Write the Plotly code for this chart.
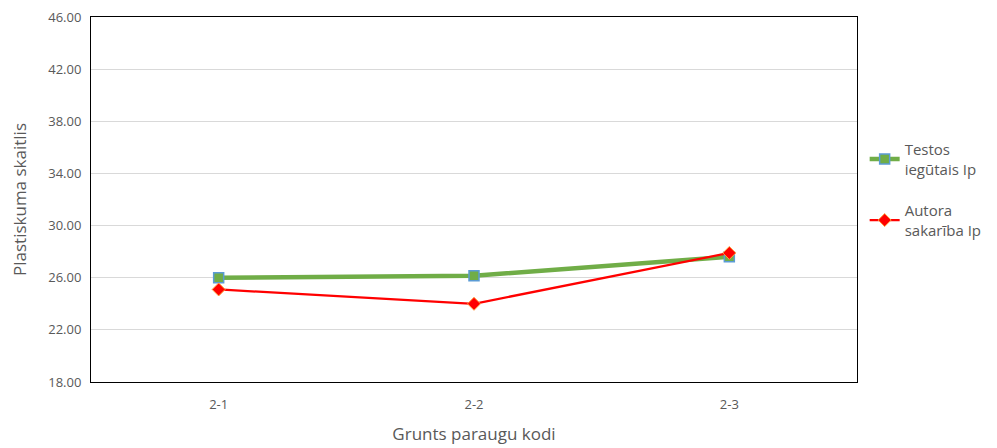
import plotly.graph_objects as go

categories = ["2-1", "2-2", "2-3"]
testos_ip = [26.0, 26.15, 27.6]
autora_ip = [25.1, 24.0, 27.9]
y_ticks = [18, 22, 26, 30, 34, 38, 42, 46]

fig = go.Figure()
fig.add_trace(go.Scatter(
    x=categories, y=testos_ip, mode="lines+markers",
    name="Testos<br>iegūtais Ip", legendgroup="a",
    line=dict(color="#70AD47", width=4.5),
    marker=dict(symbol="square", size=10, color="#70AD47",
                line=dict(color="#5B9BD5", width=1.5)),
))
fig.add_trace(go.Scatter(
    x=categories, y=autora_ip, mode="lines+markers",
    name="Autora<br>sakarība Ip", legendgroup="b",
    line=dict(color="#FF0000", width=2.25),
    marker=dict(symbol="diamond", size=10, color="#FF0000",
                line=dict(color="#FFA040", width=1)),
))

font = dict(family="Open Sans, Liberation Sans, sans-serif", size=13, color="#595959")
fig.update_layout(
    width=989, height=440,
    margin=dict(l=83, r=140, t=9, b=66, autoexpand=False),
    paper_bgcolor="white", plot_bgcolor="white",
    font=font,
    showlegend=True,
    legend=dict(x=1.01, y=0.682, xanchor="left", yanchor="top",
                font=dict(size=15, color="#595959"),
                traceorder="grouped", tracegroupgap=19),
    xaxis=dict(
        type="category", showgrid=False, showline=True, linecolor="black",
        linewidth=1, mirror=True, ticks="", range=[-0.5, 2.5], automargin=False,
        ticklabelstandoff=10,
        title=dict(text="Grunts paraugu kodi", standoff=16, font=dict(size=17)),
        tickfont=dict(size=13),
    ),
    yaxis=dict(
        range=[18, 46], tickvals=y_ticks, automargin=False,
        ticktext=[f"{v:.2f}" for v in y_ticks],
        ticklabeloverflow="allow", ticklabelstandoff=6,
        showgrid=True, gridcolor="#D9D9D9", gridwidth=1,
        showline=True, linecolor="black", linewidth=1, mirror=True,
        zeroline=False, ticks="",
        title=dict(text="Plastiskuma skaitlis", standoff=20, font=dict(size=17)),
    ),
)
fig.write_html("out.html")
